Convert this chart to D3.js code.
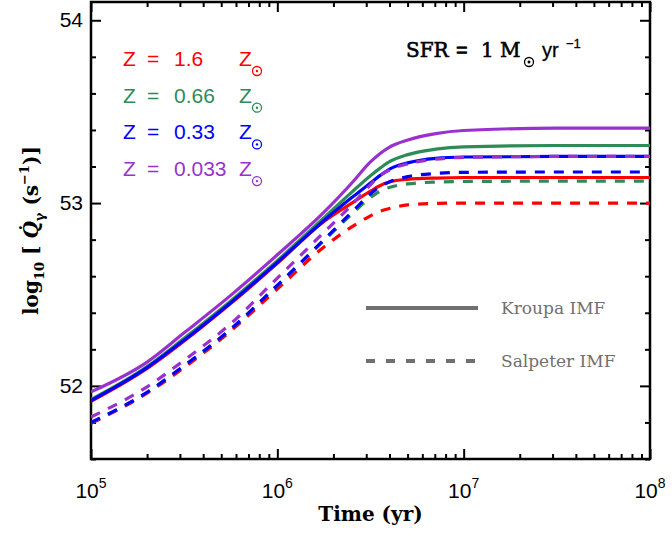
<!DOCTYPE html>
<html>
<head>
<meta charset="utf-8">
<script src="https://cdn.jsdelivr.net/npm/d3@7"></script>
<style>
  body { margin: 0; background: #fff; }
</style>
</head>
<body>
<div id="chart"></div>
<script>
// ages (yr) where the curves are sampled
const times = [1e5, 2e5, 3.16e5, 5.62e5, 1e6, 1.78e6, 2.51e6, 3.16e6, 3.55e6, 3.98e6, 5.01e6, 7.08e6, 1e7, 3.16e7, 1e8];

// log10 Q (s^-1), Kroupa IMF
const kroupa16  = [51.915, 52.095, 52.245, 52.45, 52.67, 52.90, 53.00, 53.065, 53.095, 53.115, 53.13, 53.137, 53.14, 53.14, 53.14];
const kroupa066 = [51.925, 52.105, 52.26, 52.465, 52.685, 52.92, 53.06, 53.15, 53.19, 53.225, 53.265, 53.295, 53.308, 53.315, 53.315];
const kroupa033 = [51.92, 52.10, 52.25, 52.455, 52.675, 52.905, 53.03, 53.11, 53.15, 53.185, 53.22, 53.245, 53.252, 53.255, 53.255];
const kroupa0033 = [51.967, 52.13, 52.29, 52.495, 52.717, 52.95, 53.11, 53.225, 53.27, 53.305, 53.345, 53.38, 53.397, 53.41, 53.41];

// log10 Q (s^-1), Salpeter IMF
const salp16  = [51.795, 51.96, 52.10, 52.30, 52.53, 52.76, 52.87, 52.93, 52.955, 52.97, 52.99, 52.998, 53.0, 53.0, 53.0];
const salp066 = [51.80, 51.965, 52.11, 52.31, 52.55, 52.795, 52.94, 53.03, 53.065, 53.085, 53.105, 53.115, 53.118, 53.12, 53.12];
const salp033 = [51.80, 51.965, 52.11, 52.31, 52.55, 52.80, 52.95, 53.05, 53.09, 53.115, 53.145, 53.162, 53.168, 53.17, 53.17];
const salp0033 = [51.83, 51.995, 52.14, 52.34, 52.59, 52.84, 52.99, 53.10, 53.15, 53.18, 53.215, 53.24, 53.25, 53.255, 53.255];

const zLabels = ["1.6", "0.66", "0.33", "0.033"];
const colors = ["#ff0000", "#2e8b57", "#0000ff", "#9932cc"];
const kroupaSeries = [kroupa16, kroupa066, kroupa033, kroupa0033];
const salpSeries = [salp16, salp066, salp033, salp0033];

const xMajor = [1e5, 1e6, 1e7, 1e8];
const xExp = ["5", "6", "7", "8"];
const yMajor = [52, 53, 54];

let W = 672, H = 534;
let margin = { top: 2, right: 22, bottom: 75, left: 91 },
  width = W - margin.left - margin.right,
  height = H - margin.top - margin.bottom;

let svg = d3.select("#chart").append("svg")
  .attr("width", W)
  .attr("height", H)
  .style("font-family", "'Liberation Sans', Arial, sans-serif");

let g = svg.append("g")
  .attr("transform", "translate(" + margin.left + "," + margin.top + ")");

let x = d3.scaleLog().domain([1e5, 1e8]).range([0, width]);
let y = d3.scaleLinear().domain([51.6, 54.1]).range([height, 0]);

// minor ticks
let xMinor = [];
[1e5, 1e6, 1e7].forEach(d => { for (let k = 2; k < 10; k++) xMinor.push(d * k); });
let yMinor = d3.range(51.6, 54.1, 0.2).map(v => +v.toFixed(1)).filter(v => !yMajor.includes(v));

function styleAxis(sel) {
  sel.select(".domain").remove();
  sel.selectAll("line").attr("stroke", "#000").attr("stroke-width", 2);
  sel.selectAll("text").remove();
}

// bottom / top
g.append("g").attr("transform", "translate(0," + height + ")")
  .call(d3.axisBottom(x).tickValues(xMajor).tickSize(-10)).call(styleAxis);
g.append("g").attr("transform", "translate(0," + height + ")")
  .call(d3.axisBottom(x).tickValues(xMinor).tickSize(-5)).call(styleAxis);
g.append("g")
  .call(d3.axisTop(x).tickValues(xMajor).tickSize(-10)).call(styleAxis);
g.append("g")
  .call(d3.axisTop(x).tickValues(xMinor).tickSize(-5)).call(styleAxis);
// left / right
g.append("g").call(d3.axisLeft(y).tickValues(yMajor).tickSize(-10)).call(styleAxis);
g.append("g").call(d3.axisLeft(y).tickValues(yMinor).tickSize(-5)).call(styleAxis);
g.append("g").attr("transform", "translate(" + width + ",0)")
  .call(d3.axisRight(y).tickValues(yMajor).tickSize(-10)).call(styleAxis);
g.append("g").attr("transform", "translate(" + width + ",0)")
  .call(d3.axisRight(y).tickValues(yMinor).tickSize(-5)).call(styleAxis);

// frame
g.append("rect")
  .attr("width", width).attr("height", height)
  .attr("fill", "none").attr("stroke", "#000").attr("stroke-width", 2.5);

// tick labels
let xl = g.selectAll(".xlab").data(xMajor).enter().append("text")
  .attr("class", "xlab")
  .attr("x", d => x(d))
  .attr("y", height + 39)
  .attr("text-anchor", "middle")
  .attr("font-size", 21);
xl.append("tspan").text("10");
xl.append("tspan").attr("dy", -10).attr("font-size", 14).text((d, i) => xExp[i]);

g.selectAll(".ylab").data(yMajor).enter().append("text")
  .attr("x", -8)
  .attr("y", d => y(d) + 7)
  .attr("text-anchor", "end")
  .attr("font-size", 21)
  .text(d => d);

// curves
let line = d3.line()
  .x((d, i) => x(times[i]))
  .y(d => y(d))
  .curve(d3.curveMonotoneX);

g.append("clipPath").attr("id", "clip")
  .append("rect").attr("width", width).attr("height", height);

let curves = g.append("g").attr("clip-path", "url(#clip)");
colors.forEach((c, i) => {
  curves.append("path").datum(kroupaSeries[i])
    .attr("d", line).attr("fill", "none")
    .attr("stroke", c).attr("stroke-width", 3.2);
  curves.append("path").datum(salpSeries[i])
    .attr("d", line).attr("fill", "none")
    .attr("stroke", c).attr("stroke-width", 3.2)
    .attr("stroke-dasharray", "10,9");
});

// sun symbol drawn as circle + dot
function sun(sel, cx, cy, col) {
  sel.append("circle").attr("cx", cx).attr("cy", cy).attr("r", 4.5)
    .attr("fill", "none").attr("stroke", col).attr("stroke-width", 1.3);
  sel.append("circle").attr("cx", cx).attr("cy", cy).attr("r", 1.2).attr("fill", col);
}

// metallicity legend
zLabels.forEach((z, i) => {
  let by = 66 + i * 36.7;
  let t = svg.append("g").attr("fill", colors[i]).attr("font-size", 21);
  t.append("text").attr("x", 123).attr("y", by).text("Z");
  t.append("text").attr("x", 147).attr("y", by).text("=");
  t.append("text").attr("x", 174).attr("y", by).text(z);
  t.append("text").attr("x", 239).attr("y", by).text("Z");
  sun(t, 257, by + 5, colors[i]);
});

// SFR annotation
let sfr = svg.append("g").attr("font-size", 20).attr("fill", "#000")
  .attr("stroke", "#000").attr("stroke-width", 0.6)
  .attr("font-family", "'DejaVu Serif', serif");
sfr.append("text").attr("x", 406).attr("y", 57).text("SFR");
sfr.append("text").attr("x", 456).attr("y", 57).attr("font-family", "'Liberation Sans'").text("=");
sfr.append("text").attr("x", 481).attr("y", 57).text("1");
sfr.append("text").attr("x", 500).attr("y", 57).text("M");
sun(sfr, 529, 62, "#000");
sfr.append("text").attr("x", 542).attr("y", 57).attr("font-family", "'Liberation Sans'").attr("stroke-width", 0.3).text("yr");
sfr.append("text").attr("x", 566).attr("y", 48).attr("font-family", "'Liberation Sans'")
  .attr("font-size", 13).attr("stroke-width", 0.3).text("\u22121");

// IMF legend
let imf = [{ label: "Kroupa IMF", dash: null, yy: 308 }, { label: "Salpeter IMF", dash: "9,11", yy: 361 }];
imf.forEach(d => {
  svg.append("line")
    .attr("x1", 366).attr("x2", 478).attr("y1", d.yy).attr("y2", d.yy)
    .attr("stroke", "#707070").attr("stroke-width", 4)
    .attr("stroke-dasharray", d.dash);
  svg.append("text").attr("x", 501).attr("y", d.yy + 6)
    .attr("font-family", "'DejaVu Serif', serif").attr("font-size", 17)
    .attr("fill", "#707070").text(d.label);
});

// axis titles
svg.append("text")
  .attr("x", margin.left + width / 2).attr("y", 521)
  .attr("text-anchor", "middle")
  .attr("font-family", "'DejaVu Serif', serif").attr("font-weight", "bold").attr("font-size", 20)
  .text("Time (yr)");

let yt = svg.append("text")
  .attr("transform", "translate(38," + (margin.top + height / 2) + ") rotate(-90)")
  .attr("text-anchor", "middle")
  .attr("font-family", "'DejaVu Serif', serif").attr("font-weight", "bold").attr("font-size", 20);
yt.append("tspan").text("log");
yt.append("tspan").attr("dy", 6).attr("font-size", 13).text("10");
yt.append("tspan").attr("dy", -6).text(" [ ");
yt.append("tspan").attr("font-style", "italic").text("Q\u0307");
yt.append("tspan").attr("dy", 6).attr("font-size", 13).text("\u03b3");
yt.append("tspan").attr("dy", -6).text(" (s");
yt.append("tspan").attr("dy", -9).attr("font-size", 13).text("\u22121");
yt.append("tspan").attr("dy", 9).text(")]");
</script>
</body>
</html>
